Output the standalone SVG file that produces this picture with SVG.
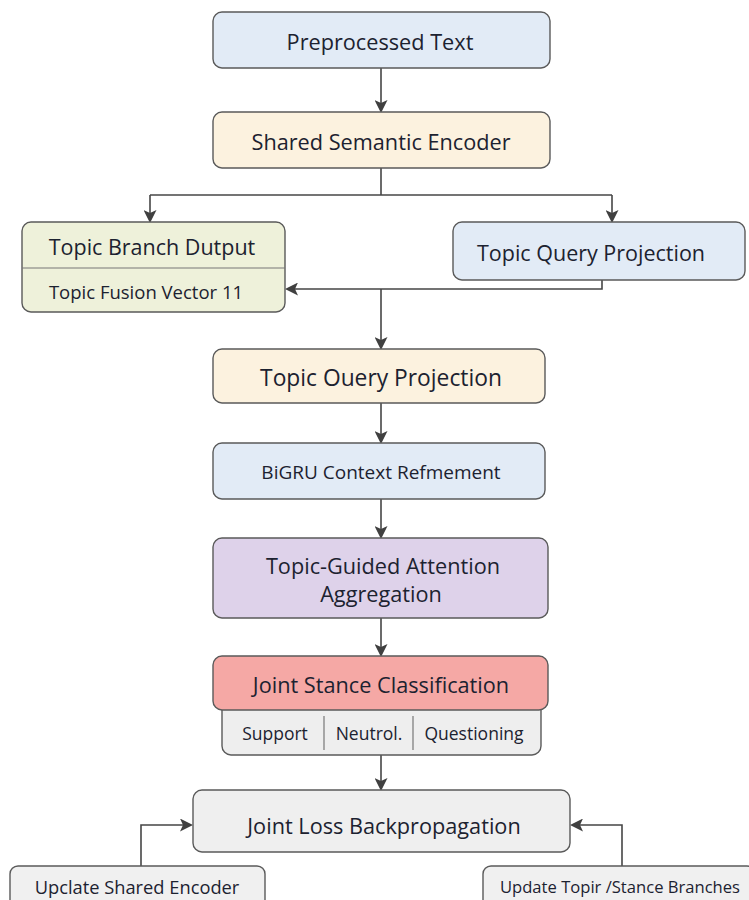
<svg xmlns="http://www.w3.org/2000/svg" width="749" height="900" viewBox="0 0 749 900">
  <defs>
    <marker id="arrow" markerWidth="13" markerHeight="13" refX="11" refY="6.5" orient="auto" markerUnits="userSpaceOnUse">
      <path d="M0,0 L13,6.5 L0,13 L3,6.5 Z" fill="#404040"/>
    </marker>
    <style>
      .box { stroke: #5a5a5a; stroke-width: 1.4; }
      .lbl { font-family: "Open Sans", "Noto Sans", "DejaVu Sans", sans-serif; fill: #1c2230; text-anchor: middle; dominant-baseline: central; }
      .big { font-size: 21.7px; }
      .mid { font-size: 21.5px; }
      .sub { font-size: 17.5px; }
      .edge { fill: none; stroke: #464646; stroke-width: 1.6; }
      .div { stroke: #777; stroke-width: 1.2; }
    </style>
  </defs>
  <rect width="749" height="900" fill="#ffffff"/>

  <!-- connectors -->
  <g id="connectors">
    <line class="edge" x1="381" y1="68" x2="381" y2="111" marker-end="url(#arrow)"/>
    <path class="edge" d="M381,168 V195"/>
    <path class="edge" d="M150,195 H612"/>
    <line class="edge" x1="150" y1="195" x2="150" y2="221" marker-end="url(#arrow)"/>
    <line class="edge" x1="612" y1="195" x2="612" y2="221" marker-end="url(#arrow)"/>
    <path class="edge" d="M602,280 V289 H287" marker-end="url(#arrow)"/>
    <line class="edge" x1="381" y1="289" x2="381" y2="348" marker-end="url(#arrow)"/>
    <line class="edge" x1="381" y1="403" x2="381" y2="442" marker-end="url(#arrow)"/>
    <line class="edge" x1="381" y1="499" x2="381" y2="537" marker-end="url(#arrow)"/>
    <line class="edge" x1="381" y1="618" x2="381" y2="655" marker-end="url(#arrow)"/>
    <line class="edge" x1="381" y1="755" x2="381" y2="789" marker-end="url(#arrow)"/>
    <path class="edge" d="M141,866 V825 H191" marker-end="url(#arrow)"/>
    <path class="edge" d="M622,866 V825 H572" marker-end="url(#arrow)"/>
  </g>

  <g id="preprocessed-text">
    <rect class="box" x="213" y="12" width="337" height="56" rx="9" fill="#e2ebf6"/>
    <text class="lbl big" x="380" y="41">Preprocessed Text</text>
  </g>

  <g id="shared-encoder">
    <rect class="box" x="213" y="112" width="337" height="56" rx="9" fill="#fcf2df"/>
    <text class="lbl big" x="381" y="141">Shared Semantic Encoder</text>
  </g>

  <g id="topic-branch-output">
    <rect class="box" x="22" y="222" width="263" height="90" rx="9" fill="#eef1da"/>
    <line class="div" x1="22" y1="268" x2="285" y2="268"/>
    <text class="lbl mid" x="152" y="246">Topic Branch Dutput</text>
    <text class="lbl" style="font-size:18.5px" x="146" y="291">Topic Fusion Vector 11</text>
  </g>

  <g id="topic-query-projection-right">
    <rect class="box" x="453" y="222" width="292" height="58" rx="9" fill="#e2ebf6"/>
    <text class="lbl mid" x="591" y="252">Topic Query Projection</text>
  </g>

  <g id="topic-query-projection">
    <rect class="box" x="213" y="349" width="332" height="54" rx="9" fill="#fcf2df"/>
    <text class="lbl" style="font-size:22.8px" x="381" y="377">Topic Ouery Projection</text>
  </g>

  <g id="bigru">
    <rect class="box" x="213" y="443" width="332" height="56" rx="9" fill="#e2ebf6"/>
    <text class="lbl" style="font-size:19px" x="381" y="472">BiGRU Context Refmement</text>
  </g>

  <g id="attention">
    <rect class="box" x="213" y="538" width="335" height="80" rx="9" fill="#ded2ea"/>
    <text class="lbl big" x="383" y="565">Topic-Guided Attention</text>
    <text class="lbl big" x="381" y="593">Aggregation</text>
  </g>

  <g id="stance-classification">
    <rect class="box" x="222" y="700" width="319" height="55" rx="9" fill="#eeeeee"/>
    <rect class="box" x="213" y="656" width="335" height="54" rx="9" fill="#f5a8a5"/>
    <line class="div" x1="324" y1="716" x2="324" y2="750"/>
    <line class="div" x1="413" y1="716" x2="413" y2="750"/>
    <text class="lbl big" x="381" y="684">Joint Stance Classification</text>
    <text class="lbl sub" x="275" y="733">Support</text>
    <text class="lbl sub" x="369" y="733">Neutrol.</text>
    <text class="lbl sub" x="474" y="733">Questioning</text>
  </g>

  <g id="joint-loss">
    <rect class="box" x="193" y="790" width="377" height="62" rx="9" fill="#efefef"/>
    <text class="lbl big" x="384" y="825">Joint Loss Backpropagation</text>
  </g>

  <g id="update-encoder">
    <rect class="box" x="10" y="866" width="255" height="46" rx="8" fill="#f0f0f0"/>
    <text class="lbl" style="font-size:18.3px" x="137" y="886">Upclate Shared Encoder</text>
  </g>

  <g id="update-branches">
    <rect class="box" x="483" y="866" width="272" height="46" rx="8" fill="#f0f0f0"/>
    <text class="lbl" style="font-size:16.6px" x="620" y="886">Update Topir /Stance Branches</text>
  </g>
</svg>
